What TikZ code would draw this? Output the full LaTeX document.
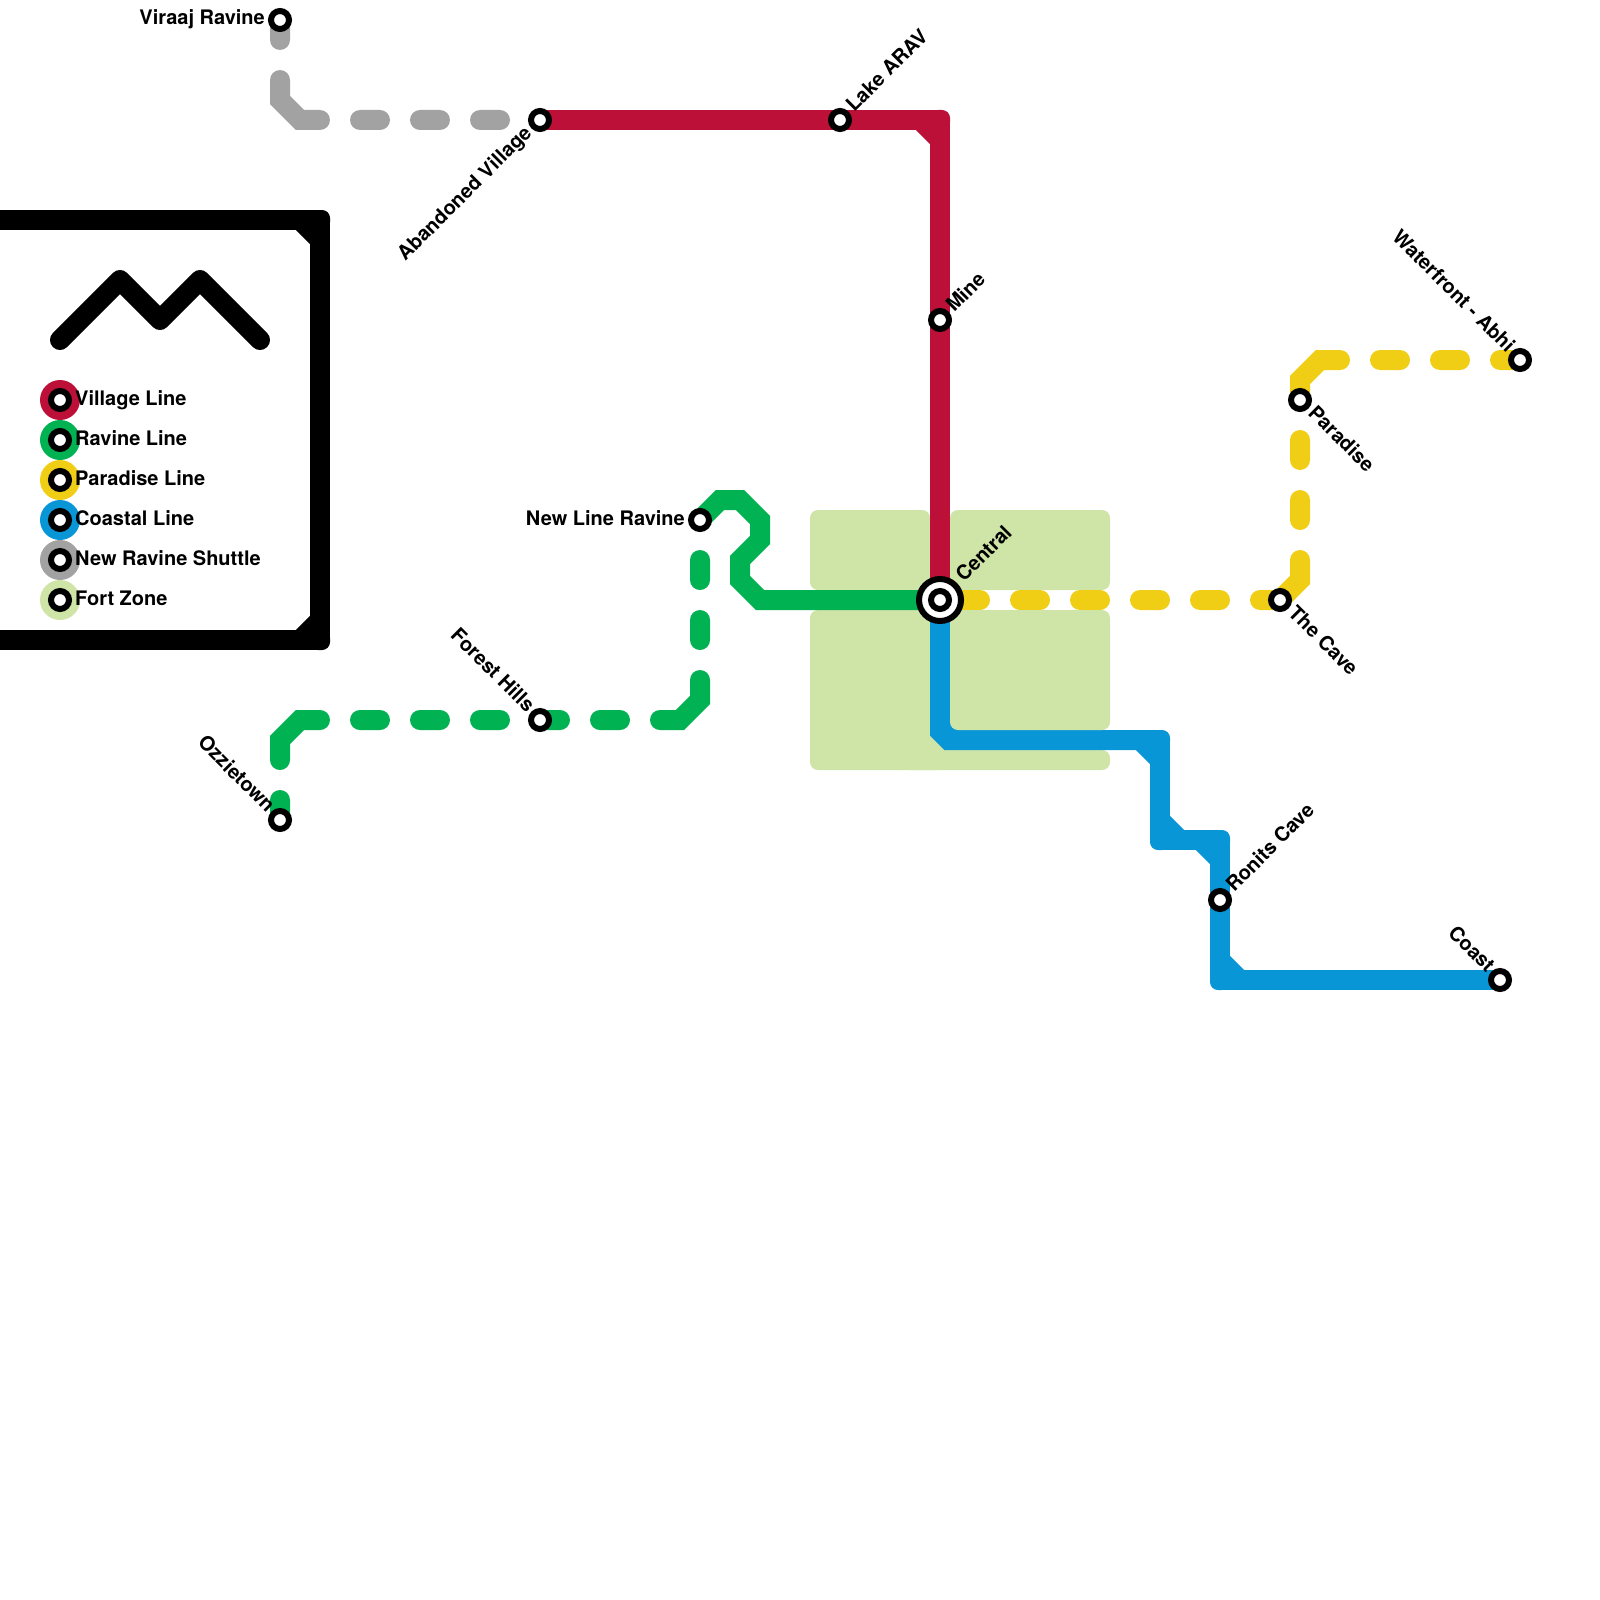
\documentclass[tikz,border=0pt]{standalone}
\usepackage{fontspec}
\setmainfont{TeX Gyre Heros}
\usetikzlibrary{positioning,backgrounds,calc}
\definecolor{villagered}{HTML}{BD1038}
\definecolor{ravinegreen}{HTML}{00B251}
\definecolor{paradiseyellow}{HTML}{F0CE15}
\definecolor{coastalblue}{HTML}{0896D7}
\definecolor{shuttlegray}{HTML}{A2A2A2}
\definecolor{fortzone}{HTML}{CFE4A7}
% colour, corner, coordinate before it, coordinate after it
\newcommand{\railbend}[4]{%
  \draw[rail, draw=#1] ($(#2)!20pt!(#3)$) -- ($(#2)!20pt!(#4)$);
  \node[bendtile, fill=#1] (#2tile) at (#2) {};
}

\begin{document}
\begin{tikzpicture}[
    x=1pt, y=-1pt,
    font=\fontsize{20}{24}\selectfont\bfseries,
    rail/.style={line width=20pt},
    sharpbend/.style={rail, line join=round},
    dashedrail/.style={rail, line cap=round},
    bendtile/.style={rectangle, rounded corners=8pt, minimum size=20pt, inner sep=0pt, outer sep=0pt},
    zone/.style={fill=fortzone, rounded corners=8pt},
    station/.style={circle, draw=black, fill=white, line width=6pt, minimum size=18pt, inner sep=0pt},
    hubring/.style={circle, draw=black, fill=white, line width=6pt, minimum size=42pt, inner sep=0pt},
    legenddisc/.style={circle, minimum size=40pt, inner sep=0pt, outer sep=0pt},
    legendtext/.style={anchor=base west, inner sep=0pt},
    tagw/.style={anchor=base east, inner sep=0pt, xshift=-15pt, yshift=-5pt},
    tagne/.style={anchor=base west, inner sep=0pt, rotate=45, xshift=15pt, yshift=-5pt},
    tagsw/.style={anchor=base east, inner sep=0pt, rotate=45, xshift=-15pt, yshift=-5pt},
    tagse/.style={anchor=base west, inner sep=0pt, rotate=-45, xshift=15pt, yshift=-5pt},
    tagnw/.style={anchor=base east, inner sep=0pt, rotate=-45, xshift=-14pt, yshift=-5pt}
]
\useasboundingbox (0,0) rectangle (1600,1600);

% stations
\node[station] (viraaj) at (280,20) {};
\node[station] (abandoned) at (540,120) {};
\node[station] (lake) at (840,120) {};
\node[station] (mine) at (940,320) {};
\node[station] (newline) at (700,520) {};
\node[station] (forest) at (540,720) {};
\node[station] (ozzie) at (280,820) {};
\node[hubring] (centralring) at (940,600) {};
\node[station] (central) at (940,600) {};
\node[station] (thecave) at (1280,600) {};
\node[station] (paradise) at (1300,400) {};
\node[station] (waterfront) at (1520,360) {};
\node[station] (ronits) at (1220,900) {};
\node[station] (coast) at (1500,980) {};

% station names
\node[tagw] (viraajtag) at (viraaj) {Viraaj Ravine};
\node[tagsw] (abandonedtag) at (abandoned) {Abandoned Village};
\node[tagne] (laketag) at (lake) {Lake ARAV};
\node[tagne] (minetag) at (mine) {Mine};
\node[tagw] (newlinetag) at (newline) {New Line Ravine};
\node[tagnw] (foresttag) at (forest) {Forest Hills};
\node[tagnw] (ozzietag) at (ozzie) {Ozzietown};
\node[tagne, xshift=14pt] (centraltag) at (central) {Central};
\node[tagse] (thecavetag) at (thecave) {The Cave};
\node[tagse] (paradisetag) at (paradise) {Paradise};
\node[tagnw] (waterfronttag) at (waterfront) {Waterfront - Abhi};
\node[tagne] (ronitstag) at (ronits) {Ronits Cave};
\node[tagnw] (coasttag) at (coast) {Coast};

% legend
\node[legenddisc, fill=villagered] (discvillage) at (60,400) {};
\node[legenddisc, fill=ravinegreen] (discravine) at (60,440) {};
\node[legenddisc, fill=paradiseyellow] (discparadise) at (60,480) {};
\node[legenddisc, fill=coastalblue] (disccoastal) at (60,520) {};
\node[legenddisc, fill=shuttlegray] (discshuttle) at (60,560) {};
\node[legenddisc, fill=fortzone] (disczone) at (60,600) {};
\node[station] (keyvillage) at (discvillage) {};
\node[station] (keyravine) at (discravine) {};
\node[station] (keyparadise) at (discparadise) {};
\node[station] (keycoastal) at (disccoastal) {};
\node[station] (keyshuttle) at (discshuttle) {};
\node[station] (keyzone) at (disczone) {};
\node[legendtext] (textvillage) at (75,405) {Village Line};
\node[legendtext] (textravine) at (75,445) {Ravine Line};
\node[legendtext] (textparadise) at (75,485) {Paradise Line};
\node[legendtext] (textcoastal) at (75,525) {Coastal Line};
\node[legendtext] (textshuttle) at (75,565) {New Ravine Shuttle};
\node[legendtext] (textzone) at (75,605) {Fort Zone};

% bends
\coordinate (redcorner) at (940,120);
\coordinate (shuttlea) at (280,100);
\coordinate (shuttleb) at (300,120);
\coordinate (ozziea) at (280,740);
\coordinate (ozzieb) at (300,720);
\coordinate (forestb) at (680,720);
\coordinate (newlinea) at (700,700);
\coordinate (solida) at (720,500);
\coordinate (solidb) at (740,500);
\coordinate (solidc) at (760,520);
\coordinate (solidd) at (760,540);
\coordinate (solide) at (740,560);
\coordinate (solidf) at (740,580);
\coordinate (solidg) at (760,600);
\coordinate (wavea) at (1320,360);
\coordinate (waveb) at (1300,380);
\coordinate (cavea) at (1300,580);
\coordinate (bluea) at (940,731.6);
\coordinate (blueb) at (948.4,740);
\coordinate (bluec) at (940,720);
\coordinate (blued) at (960,740);
\coordinate (bluecornera) at (1160,740);
\coordinate (bluecornerb) at (1160,840);
\coordinate (bluecornerc) at (1220,840);
\coordinate (bluecornerd) at (1220,980);
\coordinate (boxa) at (0,220);
\coordinate (boxcornera) at (320,220);
\coordinate (boxcornerb) at (320,640);
\coordinate (boxb) at (0,640);

\begin{scope}[on background layer]
\fill[zone] (810,510) rectangle (930,590);
\fill[zone] (950,510) rectangle (1110,590);
\fill[zone] (810,610) rectangle (945,770);
\fill[zone] (900,750) rectangle (1110,770);

% lines
\draw[sharpbend, draw=villagered] (abandoned.center) -- (lake.center) -- (redcorner) -- (central.center);
\railbend{villagered}{redcorner}{lake}{mine}

\draw[rail, draw=ravinegreen] (newline.center) -- (solida) -- (solidb) -- (solidc) -- (solidd) -- (solide) -- (solidf) -- (solidg) -- (central.center);
\draw[dashedrail, draw=ravinegreen, dash pattern=on 20pt off 40pt on 68.28pt off 40pt on 20pt off 40pt on 20pt off 40pt on 20pt off 40pt on 20pt off 40pt on 20pt off 40pt on 68.28pt off 40pt on 20pt off 40pt on 20pt off 60pt] (ozzie.center) -- (ozziea) -- (ozzieb) -- (forest.center) -- (forestb) -- (newlinea) -- (newline.center);

\draw[dashedrail, draw=paradiseyellow, dash pattern=on 20pt off 40pt on 20pt off 40pt on 20pt off 40pt on 68.28pt off 40pt on 20pt off 40pt on 20pt off 40pt on 68.28pt off 40pt on 20pt off 40pt on 20pt off 40pt on 20pt off 40pt on 20pt off 40pt on 20pt off 60pt] (waterfront.center) -- (wavea) -- (waveb) -- (paradise.center) -- (cavea) -- (thecave.center) -- (central.center);

\draw[dashedrail, draw=shuttlegray, dash pattern=on 20pt off 40pt on 68.28pt off 40pt on 20pt off 40pt on 20pt off 40pt on 20pt off 60pt] (viraaj.center) -- (shuttlea) -- (shuttleb) -- (abandoned.center);

\draw[rail, draw=coastalblue] (bluec) -- (blued);
\draw[rail, draw=coastalblue] (central.center) -- (bluea) -- (blueb) -- (bluecornera);
\draw[sharpbend, draw=coastalblue] (blueb) -- (bluecornera) -- (bluecornerb) -- (bluecornerc) -- (bluecornerd) -- (coast.center);
\railbend{coastalblue}{bluecornera}{blueb}{bluecornerb}
\railbend{coastalblue}{bluecornerb}{bluecornera}{bluecornerc}
\railbend{coastalblue}{bluecornerc}{bluecornerb}{bluecornerd}
\railbend{coastalblue}{bluecornerd}{bluecornerc}{coast}

\fill[zone] (950,610) rectangle (1110,730);

% box round the legend
\draw[sharpbend] (boxa) -- (boxcornera) -- (boxcornerb) -- (boxb);
\railbend{black}{boxcornera}{boxa}{boxcornerb}
\railbend{black}{boxcornerb}{boxcornera}{boxb}
\draw[rail, line cap=round, line join=round] (60,340) -- (120,280) -- (160,320) -- (200,280) -- (260,340);
\end{scope}
\end{tikzpicture}
\end{document}
